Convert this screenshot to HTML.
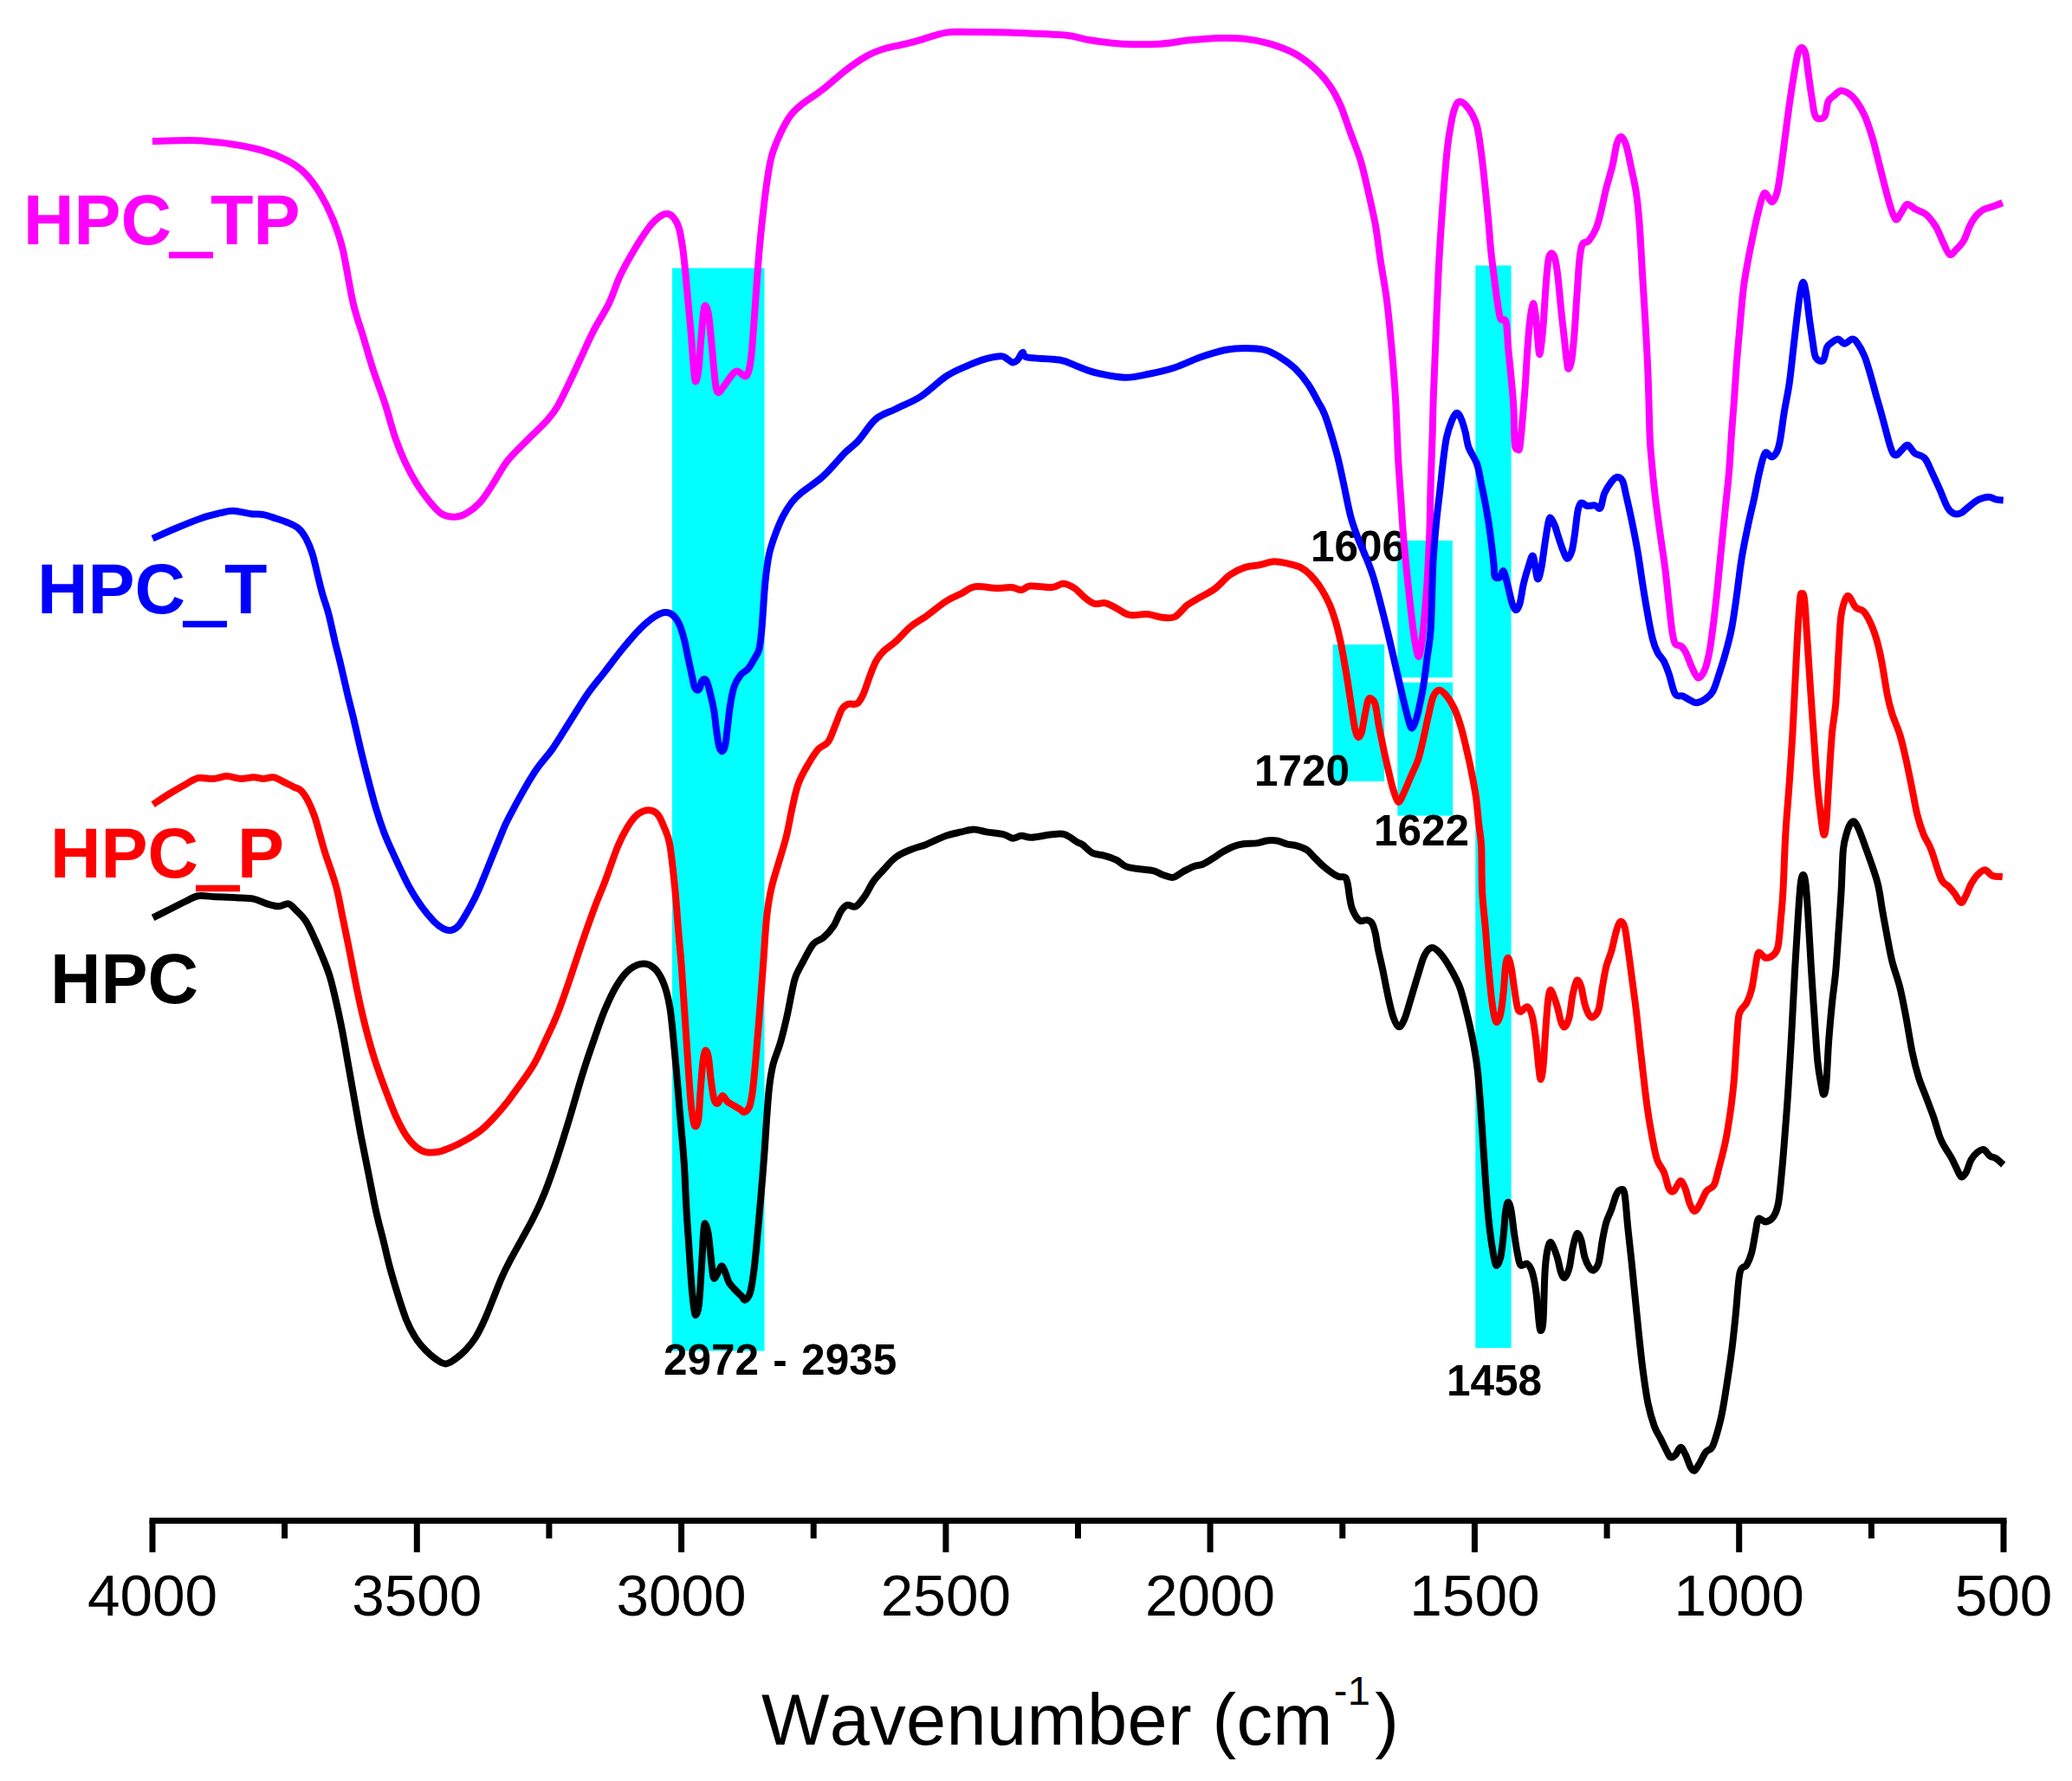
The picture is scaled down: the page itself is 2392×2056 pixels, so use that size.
<!DOCTYPE html>
<html><head><meta charset="utf-8"><title>FTIR spectra</title>
<style>
html,body{margin:0;padding:0;background:#fff;}
svg{display:block}
text{font-family:"Liberation Sans",sans-serif}
.tick{font-size:67.5px;text-anchor:middle;fill:#000}
.lab{font-size:81px;font-weight:bold}
.pk{font-size:49.5px;font-weight:bold;fill:#000}
.c{fill:none;stroke-width:8;stroke-linejoin:round;stroke-linecap:butt}
</style></head><body>
<svg width="2392" height="2056" viewBox="0 0 2392 2056">
<rect width="2392" height="2056" fill="#fff"/>

<rect x="776" y="309.5" width="106.5" height="1250.0" fill="#00ffff"/>
<rect x="1703.3" y="306.5" width="41.3" height="1249.5" fill="#00ffff"/>
<rect x="1613.3" y="624" width="63.5" height="158.2" fill="#00ffff"/>
<rect x="1613.3" y="787.8" width="63.9" height="153.8" fill="#00ffff"/>
<rect x="1538.8" y="744.1" width="59.4" height="157.9" fill="#00ffff"/>
<text class="pk" x="1513" y="647.7">1606</text>
<text class="pk" x="1448" y="907">1720</text>
<text class="pk" x="1586" y="976.4">1622</text>
<text class="pk" x="766" y="1587" style="word-spacing:2.5px">2972 - 2935</text>
<text class="pk" x="1670" y="1611.4">1458</text>
<path class="c" stroke="#ff00ff" d="M175.9 163.0 C184.5 162.9 212.1 161.6 227.4 162.2 C242.8 162.8 255.4 164.6 268.0 166.5 C280.6 168.4 292.1 170.6 302.7 173.7 C313.3 176.8 323.5 181.0 331.7 185.3 C339.9 189.7 345.6 193.5 351.9 199.8 C358.2 206.1 364.0 214.3 369.3 223.0 C374.6 231.7 379.5 241.3 383.8 251.9 C388.1 262.5 391.4 270.3 395.4 286.7 C399.4 303.1 403.7 333.0 407.7 350.0 C411.7 367.0 415.4 375.7 419.3 388.6 C423.2 401.5 426.7 414.3 430.9 427.2 C435.1 440.1 440.2 452.9 444.4 465.8 C448.6 478.7 452.1 493.1 456.0 504.4 C459.9 515.7 463.4 524.4 467.6 533.4 C471.8 542.4 476.3 550.8 481.1 558.5 C485.9 566.2 491.7 573.9 496.5 579.7 C501.3 585.5 505.2 590.4 510.0 593.2 C514.8 596.0 520.7 596.9 525.5 596.7 C530.3 596.6 534.2 595.1 539.0 592.3 C543.8 589.5 549.6 585.0 554.4 579.7 C559.2 574.4 563.2 567.8 568.0 560.4 C572.8 553.0 579.2 541.4 583.4 535.3 C587.6 529.2 588.3 528.9 593.1 523.7 C597.9 518.6 606.0 510.8 612.4 504.4 C618.8 498.0 626.6 490.9 631.7 485.1 C636.8 479.3 639.0 476.8 643.2 469.7 C647.4 462.6 652.3 452.0 656.8 442.7 C661.3 433.4 665.5 424.0 670.3 413.7 C675.1 403.4 680.2 391.5 685.7 380.9 C691.2 370.3 698.1 360.4 703.1 350.0 C708.1 339.6 710.8 329.1 715.8 318.5 C720.8 307.9 727.4 296.3 733.2 286.7 C739.0 277.1 745.8 266.8 750.6 260.6 C755.4 254.4 758.8 251.9 762.2 249.6 C765.6 247.3 768.1 246.3 770.8 246.7 C773.4 247.1 775.9 249.1 778.1 251.9 C780.3 254.7 782.2 257.7 783.9 263.5 C785.6 269.3 787.0 278.5 788.2 286.7 C789.4 294.9 790.1 303.0 791.1 312.7 C792.1 322.4 792.9 333.0 794.0 344.6 C795.1 356.2 796.4 369.6 797.5 382.2 C798.6 394.8 799.5 410.2 800.4 419.9 C801.3 429.6 801.7 438.8 802.7 440.2 C803.7 441.6 805.1 436.3 806.2 428.6 C807.3 420.9 808.1 404.9 809.1 393.8 C810.1 382.7 811.1 368.9 812.0 362.0 C812.9 355.1 813.3 352.7 814.3 352.7 C815.3 352.7 816.7 356.1 817.8 362.0 C818.9 367.9 819.7 378.4 820.7 388.0 C821.7 397.6 822.7 410.2 823.6 419.9 C824.5 429.5 825.5 440.3 826.4 445.9 C827.3 451.4 827.9 452.9 829.3 453.2 C830.7 453.4 831.8 451.0 834.6 447.4 C837.4 443.8 843.2 434.6 846.1 431.5 C849.0 428.4 849.5 428.1 851.9 428.6 C854.3 429.1 858.4 434.9 860.6 434.4 C862.8 433.9 863.8 430.5 865.0 425.7 C866.2 420.9 866.7 418.4 867.9 405.4 C869.1 392.4 870.8 366.8 872.2 347.5 C873.6 328.2 875.0 306.5 876.5 289.6 C878.0 272.7 879.4 259.1 880.9 246.1 C882.4 233.1 883.5 222.5 885.2 211.4 C886.9 200.3 888.3 189.2 891.0 179.5 C893.7 169.8 897.6 161.2 901.2 153.5 C904.8 145.8 908.9 138.5 912.7 133.2 C916.6 127.9 918.0 126.7 924.3 121.6 C930.6 116.5 941.7 109.5 950.4 102.8 C959.1 96.0 968.2 87.4 976.4 81.1 C984.6 74.8 992.4 69.3 999.6 65.2 C1006.9 61.1 1011.2 59.2 1019.9 56.5 C1028.6 53.8 1039.6 52.4 1051.7 49.2 C1063.8 46.1 1080.7 39.6 1092.3 37.6 C1103.9 35.6 1109.1 37.1 1121.2 37.1 C1133.3 37.1 1146.7 37.0 1164.7 37.6 C1182.7 38.2 1213.5 39.0 1229.0 40.5 C1244.5 42.0 1246.8 44.6 1257.9 46.3 C1269.0 48.0 1282.1 50.0 1295.6 50.7 C1309.1 51.4 1326.0 51.4 1339.0 50.7 C1352.0 50.0 1362.1 47.4 1373.7 46.3 C1385.3 45.2 1397.9 44.2 1408.5 44.0 C1419.1 43.8 1427.8 43.8 1437.5 44.9 C1447.2 46.0 1456.8 47.8 1466.4 50.7 C1476.1 53.6 1486.7 57.5 1495.4 62.3 C1504.1 67.1 1511.8 73.3 1518.5 79.6 C1525.2 85.9 1531.1 92.9 1535.9 99.9 C1540.7 106.9 1543.6 112.7 1547.5 121.6 C1551.4 130.5 1555.2 142.9 1559.1 153.5 C1563.0 164.1 1567.3 174.2 1570.7 185.3 C1574.1 196.4 1576.4 207.5 1579.3 220.1 C1582.2 232.7 1585.6 247.1 1588.0 260.6 C1590.4 274.1 1591.6 286.7 1593.8 301.2 C1596.0 315.7 1598.9 330.1 1601.1 347.5 C1603.3 364.9 1605.2 386.1 1606.9 405.4 C1608.6 424.7 1610.0 442.7 1611.2 463.3 C1612.4 483.9 1613.1 510.8 1614.1 529.0 C1615.1 547.2 1616.0 557.9 1617.0 572.4 C1618.0 586.9 1618.7 600.8 1619.9 615.8 C1621.1 630.8 1622.8 647.7 1624.2 662.2 C1625.7 676.7 1627.1 690.2 1628.6 702.7 C1630.0 715.2 1631.5 728.3 1632.9 737.5 C1634.4 746.7 1636.1 755.8 1637.3 757.7 C1638.5 759.6 1639.2 754.3 1640.2 749.0 C1641.2 743.7 1641.9 738.4 1643.1 725.9 C1644.3 713.4 1646.2 692.1 1647.4 673.7 C1648.6 655.4 1649.6 635.1 1650.3 615.8 C1651.0 596.5 1651.1 577.2 1651.7 557.9 C1652.3 538.6 1653.2 515.9 1653.7 500.1 C1654.2 484.3 1654.1 479.1 1654.6 463.3 C1655.1 447.5 1655.9 429.5 1656.9 405.4 C1657.9 381.3 1659.1 345.1 1660.4 318.5 C1661.7 291.9 1663.1 270.2 1664.8 246.1 C1666.5 222.0 1668.7 192.0 1670.6 173.7 C1672.5 155.4 1674.7 144.8 1676.4 136.1 C1678.1 127.4 1679.3 124.7 1680.7 121.6 C1682.1 118.5 1683.1 117.3 1685.0 117.3 C1686.9 117.3 1689.9 119.2 1692.3 121.6 C1694.7 124.0 1697.3 127.7 1699.5 131.8 C1701.7 135.9 1703.6 139.2 1705.3 146.2 C1707.0 153.2 1708.2 162.8 1709.7 173.7 C1711.2 184.6 1712.6 197.9 1714.0 211.4 C1715.4 224.9 1717.1 241.8 1718.3 254.8 C1719.5 267.8 1720.1 279.0 1721.2 289.6 C1722.3 300.2 1723.5 308.9 1724.7 318.5 C1725.9 328.1 1727.2 339.3 1728.5 347.5 C1729.8 355.7 1730.5 363.7 1732.2 367.8 C1733.9 371.9 1737.0 365.8 1738.6 372.1 C1740.1 378.4 1740.5 395.0 1741.5 405.4 C1742.5 415.8 1743.4 423.8 1744.4 434.4 C1745.4 445.0 1746.6 456.2 1747.3 469.1 C1748.0 482.0 1747.9 503.3 1748.7 511.6 C1749.5 519.9 1751.1 518.8 1752.2 518.8 C1753.3 518.8 1753.8 522.8 1755.1 511.6 C1756.4 500.4 1758.9 469.4 1760.3 451.7 C1761.7 434.0 1762.2 418.9 1763.2 405.4 C1764.2 391.9 1765.0 379.9 1766.1 370.7 C1767.2 361.5 1768.8 351.4 1769.9 350.4 C1771.0 349.4 1771.8 357.2 1772.8 364.9 C1773.8 372.6 1774.9 389.5 1775.7 396.7 C1776.5 403.9 1776.7 411.7 1777.7 408.3 C1778.7 404.9 1780.4 388.9 1781.5 376.4 C1782.6 363.8 1783.4 345.5 1784.4 333.0 C1785.4 320.5 1786.2 307.9 1787.3 301.2 C1788.3 294.4 1789.4 293.0 1790.7 292.5 C1792.0 292.0 1793.8 294.0 1795.1 298.3 C1796.4 302.6 1797.2 308.9 1798.4 318.5 C1799.6 328.1 1800.8 344.1 1802.1 356.2 C1803.3 368.3 1804.8 380.8 1805.9 390.9 C1807.0 401.0 1808.0 411.2 1808.8 417.0 C1809.6 422.8 1809.8 426.2 1810.8 425.7 C1811.8 425.2 1813.5 420.9 1814.6 414.1 C1815.7 407.3 1816.5 397.2 1817.5 385.1 C1818.5 373.0 1819.4 355.7 1820.4 341.7 C1821.4 327.7 1822.2 311.1 1823.3 301.2 C1824.3 291.3 1824.9 286.2 1826.7 282.3 C1828.5 278.4 1831.3 281.1 1834.0 278.0 C1836.7 274.9 1840.3 269.3 1842.7 263.5 C1845.1 257.7 1846.6 250.9 1848.5 243.2 C1850.4 235.5 1852.1 225.9 1854.3 217.2 C1856.5 208.5 1859.4 199.8 1861.5 191.1 C1863.6 182.4 1865.0 170.6 1866.7 165.1 C1868.4 159.6 1869.8 157.3 1871.6 157.8 C1873.4 158.3 1875.5 162.0 1877.4 168.0 C1879.3 174.0 1881.3 184.8 1883.2 194.0 C1885.1 203.2 1887.4 211.9 1889.0 223.0 C1890.6 234.1 1891.6 244.7 1892.8 260.6 C1894.0 276.5 1895.0 299.2 1896.2 318.5 C1897.4 337.8 1898.6 357.1 1899.7 376.4 C1900.8 395.7 1901.8 413.8 1902.6 434.4 C1903.4 455.0 1903.9 484.3 1904.5 500.1 C1905.1 515.9 1905.4 517.0 1906.4 529.0 C1907.4 541.0 1909.0 557.9 1910.7 572.4 C1912.4 586.9 1914.6 601.8 1916.5 615.8 C1918.4 629.8 1920.6 642.9 1922.3 656.4 C1924.0 669.9 1925.3 684.8 1926.7 696.9 C1928.1 709.0 1929.2 721.1 1930.4 728.8 C1931.6 736.5 1932.1 740.3 1933.9 743.2 C1935.7 746.1 1938.9 744.2 1941.1 746.1 C1943.3 748.0 1945.0 750.9 1946.9 754.8 C1948.8 758.7 1950.5 764.7 1952.7 769.3 C1954.9 773.9 1957.6 781.3 1960.0 782.3 C1962.4 783.3 1965.0 779.7 1967.2 775.1 C1969.4 770.5 1971.3 763.0 1973.0 754.8 C1974.7 746.6 1975.8 737.0 1977.3 725.9 C1978.8 714.8 1980.2 701.7 1981.7 688.2 C1983.2 674.7 1984.3 661.7 1986.0 644.8 C1987.7 627.9 1990.1 603.8 1991.8 586.9 C1993.5 570.0 1995.0 557.9 1996.2 543.4 C1997.4 528.9 1998.0 513.5 1999.0 500.1 C2000.0 486.8 2000.9 476.7 2001.9 463.3 C2002.9 449.9 2003.7 434.4 2004.8 419.9 C2005.9 405.4 2007.3 390.9 2008.6 376.4 C2009.9 361.9 2011.2 345.5 2012.7 333.0 C2014.2 320.5 2016.1 311.3 2017.9 301.2 C2019.7 291.1 2021.8 281.4 2023.7 272.2 C2025.6 263.0 2027.3 254.3 2029.5 246.1 C2031.7 237.9 2034.0 225.2 2036.7 223.0 C2039.4 220.8 2043.0 233.1 2045.4 233.1 C2047.8 233.1 2049.6 228.1 2051.2 223.0 C2052.8 217.9 2053.4 212.3 2054.9 202.7 C2056.4 193.0 2058.1 178.6 2059.9 165.1 C2061.7 151.6 2063.7 135.1 2065.6 121.6 C2067.5 108.1 2069.7 94.1 2071.4 84.0 C2073.1 73.9 2074.4 65.6 2075.8 60.8 C2077.2 56.0 2078.7 54.8 2080.1 55.0 C2081.5 55.2 2083.2 57.0 2084.5 62.3 C2085.8 67.6 2086.7 78.5 2087.9 86.9 C2089.1 95.3 2090.3 104.9 2091.7 112.9 C2093.1 120.9 2093.7 131.1 2096.1 134.7 C2098.5 138.3 2103.8 137.6 2106.2 134.7 C2108.6 131.8 2108.6 121.4 2110.5 117.3 C2112.4 113.2 2115.4 112.1 2117.8 110.0 C2120.2 107.9 2122.3 105.2 2125.0 104.8 C2127.7 104.4 2130.8 105.9 2133.7 107.7 C2136.6 109.5 2139.3 111.5 2142.4 115.8 C2145.5 120.0 2149.4 126.2 2152.5 133.2 C2155.6 140.2 2158.5 149.1 2161.2 157.8 C2163.8 166.5 2166.0 175.9 2168.4 185.3 C2170.8 194.7 2173.3 205.1 2175.7 214.3 C2178.1 223.5 2180.7 233.8 2182.9 240.3 C2185.1 246.8 2186.8 252.4 2188.7 253.4 C2190.6 254.4 2192.3 249.0 2194.5 246.1 C2196.7 243.2 2198.8 236.7 2201.7 236.0 C2204.6 235.3 2208.3 239.9 2211.9 241.8 C2215.5 243.7 2219.6 244.2 2223.5 247.6 C2227.4 251.0 2231.7 256.6 2235.1 262.1 C2238.5 267.7 2241.0 275.6 2243.7 280.9 C2246.3 286.2 2248.6 292.7 2251.0 293.9 C2253.4 295.1 2255.5 290.8 2258.2 288.1 C2260.8 285.5 2264.2 282.6 2266.9 278.0 C2269.6 273.4 2271.7 265.4 2274.1 260.6 C2276.5 255.8 2278.7 252.1 2281.4 249.0 C2284.1 245.9 2286.7 243.6 2290.1 241.8 C2293.5 240.0 2298.1 239.3 2301.7 238.0 C2305.3 236.7 2310.1 234.7 2311.8 234.0"/>
<path class="c" stroke="#0000ff" d="M176.1 621.6 C180.5 619.7 193.4 613.9 202.7 610.0 C212.0 606.1 223.0 601.5 231.7 598.5 C240.4 595.5 248.5 593.6 254.8 592.1 C261.1 590.6 263.5 589.6 269.3 589.8 C275.1 590.0 283.8 592.5 289.6 593.2 C295.4 593.9 299.3 593.2 304.1 594.1 C308.9 595.0 313.7 596.9 318.5 598.5 C323.3 600.1 328.6 601.8 333.0 603.7 C337.4 605.6 341.2 607.0 344.6 610.0 C348.0 613.0 350.7 616.8 353.3 621.6 C355.9 626.4 358.3 632.2 360.5 639.0 C362.7 645.8 364.4 654.5 366.3 662.2 C368.2 669.9 369.9 677.6 372.1 685.3 C374.3 693.0 376.9 699.3 379.3 708.5 C381.7 717.7 384.2 730.2 386.6 740.3 C389.0 750.4 391.4 759.1 393.8 769.3 C396.2 779.4 398.7 791.1 401.1 801.2 C403.5 811.3 405.7 819.0 408.3 830.1 C410.9 841.2 414.1 855.7 417.0 867.8 C419.9 879.9 422.8 891.4 425.7 902.5 C428.6 913.6 431.5 924.8 434.4 934.4 C437.3 944.0 440.2 952.7 443.1 960.4 C446.0 968.1 446.9 970.2 451.7 980.7 C456.5 991.2 466.2 1012.3 472.0 1023.2 C477.8 1034.1 481.7 1039.5 486.5 1046.3 C491.3 1053.0 496.7 1059.3 501.0 1063.7 C505.3 1068.1 509.1 1070.7 512.5 1072.4 C515.9 1074.1 518.3 1074.5 521.2 1073.8 C524.1 1073.1 526.5 1072.2 529.9 1068.1 C533.3 1064.0 537.6 1056.2 541.5 1049.2 C545.4 1042.2 547.3 1039.4 553.1 1026.1 C558.9 1012.7 570.5 982.9 576.3 969.1 C582.1 955.3 580.9 956.1 587.8 943.1 C594.6 930.1 609.1 903.9 617.4 890.9 C625.7 877.9 630.9 874.5 637.6 864.9 C644.4 855.2 651.1 843.6 657.9 833.0 C664.7 822.4 671.4 810.9 678.2 801.2 C685.0 791.6 691.8 783.8 698.5 775.1 C705.2 766.4 712.0 757.2 718.7 749.0 C725.5 740.8 732.7 732.2 739.0 725.9 C745.3 719.6 751.6 714.5 756.4 711.4 C761.2 708.2 764.6 707.2 768.0 707.0 C771.4 706.8 774.0 707.7 776.6 709.9 C779.2 712.1 781.7 715.5 783.9 720.1 C786.1 724.7 788.0 731.2 789.7 737.5 C791.4 743.8 792.5 751.0 794.0 757.7 C795.5 764.5 797.0 772.0 798.4 778.0 C799.8 784.0 800.7 790.9 802.1 793.9 C803.5 796.9 805.5 797.3 807.0 795.9 C808.5 794.5 809.3 786.8 810.8 785.2 C812.2 783.6 814.2 783.4 815.7 786.1 C817.2 788.8 818.7 795.3 820.1 801.2 C821.5 807.1 823.2 814.2 824.4 821.4 C825.6 828.6 826.3 837.8 827.3 844.6 C828.3 851.4 829.1 858.2 830.2 862.0 C831.3 865.8 832.8 867.7 834.0 867.2 C835.2 866.7 836.5 864.3 837.5 859.1 C838.5 853.9 839.3 843.6 840.3 835.9 C841.2 828.2 842.0 819.9 843.2 812.7 C844.4 805.5 845.7 798.0 847.6 792.5 C849.5 787.0 852.1 782.8 854.8 779.4 C857.4 776.0 860.8 775.3 863.5 772.2 C866.2 769.1 868.6 764.5 870.8 760.6 C873.0 756.7 875.1 754.8 876.5 749.0 C877.9 743.2 878.6 734.6 879.4 725.9 C880.2 717.2 880.8 706.5 881.5 696.9 C882.2 687.2 882.7 677.6 883.8 668.0 C884.9 658.4 886.2 647.7 888.1 639.0 C890.0 630.3 892.7 623.0 895.4 615.8 C898.1 608.6 901.0 601.6 904.1 595.6 C907.2 589.6 910.8 584.0 914.2 579.6 C917.6 575.2 918.8 574.1 924.3 569.5 C929.8 564.9 941.2 557.4 947.5 552.1 C953.8 546.8 957.2 542.7 962.0 537.6 C966.8 532.5 971.6 526.5 976.4 521.7 C981.2 516.9 985.1 515.0 990.9 508.7 C996.7 502.3 1004.0 489.7 1011.2 483.6 C1018.5 477.5 1025.7 476.4 1034.4 472.0 C1043.1 467.6 1053.7 463.8 1063.3 457.5 C1072.9 451.2 1083.6 440.2 1092.3 434.4 C1101.0 428.6 1107.7 426.2 1115.4 422.8 C1123.1 419.4 1131.8 416.0 1138.6 414.1 C1145.4 412.2 1151.9 411.1 1156.0 411.2 C1160.1 411.3 1161.0 413.5 1163.2 414.7 C1165.4 415.9 1167.1 418.3 1169.0 418.4 C1170.9 418.5 1172.9 417.4 1174.8 415.5 C1176.7 413.6 1178.7 407.4 1180.6 406.9 C1182.5 406.4 1179.3 411.2 1186.4 412.6 C1193.5 414.0 1213.7 413.8 1223.2 415.5 C1232.7 417.2 1236.7 420.4 1243.4 422.8 C1250.2 425.2 1254.5 427.8 1263.7 430.0 C1272.9 432.2 1287.9 435.6 1298.5 435.8 C1309.1 436.1 1317.8 433.4 1327.4 431.5 C1337.1 429.6 1346.8 427.3 1356.4 424.2 C1366.1 421.1 1375.7 416.0 1385.3 412.6 C1394.9 409.2 1405.6 405.8 1414.3 404.0 C1423.0 402.2 1429.8 401.9 1437.5 401.9 C1445.2 401.9 1453.8 402.2 1460.6 404.0 C1467.3 405.8 1472.2 409.0 1478.0 412.6 C1483.8 416.2 1490.1 420.6 1495.4 425.7 C1500.7 430.8 1505.5 436.8 1509.8 443.1 C1514.1 449.4 1518.0 457.0 1521.4 463.3 C1524.8 469.6 1526.5 470.7 1530.1 480.7 C1533.7 490.7 1539.7 510.8 1543.1 523.2 C1546.5 535.6 1547.7 542.9 1550.4 555.0 C1553.1 567.1 1556.2 584.5 1559.1 595.6 C1562.0 606.7 1564.9 613.9 1567.8 621.6 C1570.7 629.3 1573.5 634.6 1576.4 641.9 C1579.3 649.1 1582.2 655.9 1585.1 665.1 C1588.0 674.3 1590.9 685.8 1593.8 696.9 C1596.7 708.0 1599.6 719.6 1602.5 731.7 C1605.4 743.8 1608.3 756.8 1611.2 769.3 C1614.1 781.8 1617.5 796.8 1619.9 806.9 C1622.3 817.0 1624.2 824.5 1625.7 830.1 C1627.2 835.7 1628.0 839.3 1629.2 840.3 C1630.4 841.3 1631.6 839.0 1632.9 835.9 C1634.2 832.8 1635.6 828.6 1637.3 821.4 C1639.0 814.2 1641.4 802.6 1643.1 792.5 C1644.8 782.4 1646.0 771.7 1647.4 760.6 C1648.8 749.5 1650.5 744.3 1651.7 725.9 C1652.9 707.5 1653.3 670.4 1654.4 650.0 C1655.5 629.6 1656.8 617.2 1658.1 603.4 C1659.4 589.6 1660.8 579.7 1662.2 567.2 C1663.6 554.7 1665.2 539.1 1666.5 528.6 C1667.8 518.1 1668.5 511.6 1670.1 504.4 C1671.7 497.1 1674.3 489.7 1676.2 485.1 C1678.1 480.5 1679.9 476.9 1681.7 476.7 C1683.5 476.5 1685.3 480.1 1687.0 483.9 C1688.7 487.7 1690.4 494.2 1691.8 499.6 C1693.2 505.0 1693.3 510.5 1695.5 516.5 C1697.7 522.5 1702.7 529.0 1705.1 535.8 C1707.5 542.6 1708.3 549.9 1709.9 557.5 C1711.5 565.1 1713.2 572.9 1714.8 581.7 C1716.4 590.6 1718.0 599.2 1719.6 610.6 C1721.2 622.0 1723.4 640.9 1724.4 650.0 C1725.4 659.1 1724.4 662.4 1725.6 665.1 C1726.8 667.9 1729.7 667.5 1731.4 666.5 C1733.1 665.5 1734.2 658.1 1735.7 659.3 C1737.2 660.5 1738.4 667.4 1740.1 673.7 C1741.8 680.0 1744.1 691.8 1745.8 696.9 C1747.5 702.0 1748.8 704.2 1750.2 704.2 C1751.7 704.2 1753.0 702.0 1754.5 696.9 C1756.0 691.8 1757.2 680.9 1758.9 673.7 C1760.6 666.5 1762.9 658.8 1764.7 653.5 C1766.5 648.2 1768.2 639.5 1769.9 641.9 C1771.6 644.3 1773.2 665.6 1774.8 668.0 C1776.3 670.4 1777.8 663.2 1779.2 656.4 C1780.7 649.6 1782.1 636.6 1783.5 627.4 C1784.9 618.2 1786.6 606.2 1787.8 601.4 C1789.0 596.6 1789.5 597.5 1790.7 598.5 C1791.9 599.5 1793.9 604.2 1795.1 607.1 C1796.3 610.0 1796.4 611.4 1797.8 615.8 C1799.2 620.1 1801.7 628.4 1803.6 633.2 C1805.5 638.0 1807.6 644.3 1809.4 644.8 C1811.2 645.3 1813.1 640.9 1814.6 636.1 C1816.0 631.3 1816.9 623.5 1818.1 615.8 C1819.2 608.1 1820.3 595.7 1821.5 589.8 C1822.7 583.9 1823.5 581.5 1825.3 580.5 C1827.1 579.5 1829.8 583.5 1832.5 584.0 C1835.2 584.5 1838.7 583.0 1841.2 583.4 C1843.7 583.8 1845.8 588.6 1847.6 586.3 C1849.4 584.0 1850.1 574.5 1852.2 569.5 C1854.3 564.5 1857.7 559.6 1860.1 556.5 C1862.5 553.4 1864.5 551.0 1866.7 550.7 C1868.9 550.5 1871.3 551.4 1873.1 555.0 C1874.9 558.6 1875.7 565.1 1877.4 572.4 C1879.1 579.6 1881.0 587.9 1883.2 598.5 C1885.4 609.1 1888.3 623.6 1890.5 636.1 C1892.7 648.6 1894.3 661.6 1896.2 673.7 C1898.1 685.8 1900.1 697.9 1902.0 708.5 C1903.9 719.1 1905.9 730.0 1907.8 737.5 C1909.7 745.0 1911.4 749.1 1913.6 753.4 C1915.8 757.7 1918.7 759.4 1920.9 763.5 C1923.1 767.6 1924.5 771.7 1926.7 778.0 C1928.9 784.3 1931.2 797.0 1933.9 801.2 C1936.6 805.5 1939.7 802.3 1942.6 803.5 C1945.5 804.7 1948.6 807.1 1951.3 808.4 C1954.0 809.7 1955.6 811.5 1958.5 811.3 C1961.4 811.0 1965.5 809.1 1968.6 806.9 C1971.7 804.7 1974.6 803.1 1977.3 798.3 C1980.0 793.5 1982.2 785.2 1984.6 778.0 C1987.0 770.8 1989.4 763.5 1991.8 754.8 C1994.2 746.1 1996.8 737.0 1999.0 725.9 C2001.2 714.8 2002.9 701.7 2004.8 688.2 C2006.7 674.7 2008.4 658.3 2010.6 644.8 C2012.8 631.3 2015.5 618.7 2017.9 607.1 C2020.3 595.5 2022.9 585.4 2025.1 575.3 C2027.3 565.2 2028.8 555.0 2030.9 546.3 C2033.0 537.6 2035.2 526.3 2037.6 523.2 C2040.0 520.1 2043.1 527.8 2045.4 527.5 C2047.7 527.2 2049.6 524.8 2051.2 521.7 C2052.8 518.6 2053.4 516.5 2054.9 508.7 C2056.4 500.9 2058.1 485.8 2059.9 474.9 C2061.7 464.0 2063.9 454.7 2065.6 443.1 C2067.3 431.5 2068.6 417.9 2070.0 405.4 C2071.4 392.8 2073.0 378.9 2074.3 367.8 C2075.7 356.7 2076.9 345.8 2078.1 338.8 C2079.3 331.8 2080.4 325.8 2081.6 325.8 C2082.8 325.8 2083.9 331.8 2085.1 338.8 C2086.3 345.8 2087.6 358.6 2088.8 367.8 C2090.1 377.0 2091.4 386.3 2092.6 393.8 C2093.8 401.3 2094.1 408.9 2096.1 412.6 C2098.1 416.3 2102.5 418.0 2104.7 416.1 C2106.9 414.2 2107.4 404.6 2109.1 401.1 C2110.8 397.6 2112.7 396.9 2114.9 395.3 C2117.1 393.7 2119.7 391.3 2122.1 391.5 C2124.5 391.7 2126.8 396.7 2129.4 396.7 C2132.1 396.7 2135.6 391.7 2138.0 391.5 C2140.4 391.3 2141.4 392.0 2143.8 395.3 C2146.2 398.6 2149.8 404.7 2152.5 411.2 C2155.2 417.7 2157.4 426.2 2159.8 434.4 C2162.2 442.6 2164.8 452.7 2167.0 460.4 C2169.2 468.1 2170.2 471.2 2172.8 480.7 C2175.5 490.2 2180.2 509.9 2182.9 517.4 C2185.6 524.9 2186.5 525.3 2188.7 525.5 C2190.9 525.7 2193.7 520.7 2196.0 518.8 C2198.3 516.9 2200.2 513.2 2202.6 513.9 C2205.0 514.6 2207.2 520.7 2210.4 523.2 C2213.6 525.7 2218.6 525.1 2222.0 529.0 C2225.4 532.9 2227.8 540.3 2230.7 546.3 C2233.6 552.3 2236.5 558.7 2239.4 565.2 C2242.3 571.7 2245.4 580.8 2248.1 585.4 C2250.8 590.0 2252.7 591.6 2255.3 592.7 C2258.0 593.8 2260.9 593.6 2264.0 592.1 C2267.1 590.6 2270.7 586.6 2274.1 584.0 C2277.5 581.4 2280.7 578.4 2284.3 576.7 C2287.9 575.0 2292.5 573.8 2295.9 573.8 C2299.3 573.8 2301.7 576.1 2304.5 576.7 C2307.3 577.3 2311.3 577.5 2312.7 577.6"/>
<path class="c" stroke="#ff0000" d="M176.6 928.6 C180.0 926.4 190.6 919.4 196.9 915.5 C203.2 911.6 209.0 908.3 214.3 905.4 C219.6 902.5 223.5 899.3 228.8 898.2 C234.1 897.1 240.5 899.4 246.1 899.0 C251.7 898.6 256.8 896.1 262.1 896.1 C267.4 896.1 272.9 898.8 278.0 899.0 C283.1 899.2 288.1 897.3 292.5 897.3 C296.9 897.3 300.2 899.0 304.1 899.0 C308.0 899.0 311.8 896.7 315.6 897.3 C319.5 897.9 323.3 900.7 327.2 902.5 C331.1 904.3 335.4 906.6 338.8 908.3 C342.2 910.0 344.6 909.7 347.5 912.6 C350.4 915.5 353.6 920.6 356.2 925.7 C358.8 930.8 361.2 936.8 363.4 943.1 C365.6 949.4 367.3 956.5 369.2 963.3 C371.1 970.0 371.9 973.6 375.0 983.6 C378.1 993.6 384.6 1010.8 388.0 1023.2 C391.4 1035.6 392.9 1046.3 395.3 1057.9 C397.7 1069.5 400.1 1080.6 402.5 1092.7 C404.9 1104.8 407.3 1118.2 409.7 1130.3 C412.1 1142.4 414.3 1153.5 417.0 1165.1 C419.7 1176.7 422.8 1189.2 425.7 1199.8 C428.6 1210.4 431.0 1218.7 434.4 1228.8 C437.8 1238.9 442.0 1250.5 445.9 1260.6 C449.8 1270.7 453.6 1281.1 457.5 1289.6 C461.4 1298.0 465.2 1305.5 469.1 1311.3 C473.0 1317.1 476.8 1321.2 480.7 1324.3 C484.6 1327.4 487.9 1329.2 492.3 1330.1 C496.7 1331.0 502.0 1330.5 506.8 1329.5 C511.6 1328.5 515.9 1326.6 521.2 1324.3 C526.5 1322.0 532.8 1319.0 538.6 1315.6 C544.4 1312.2 550.2 1308.9 556.0 1304.1 C561.8 1299.3 568.1 1292.5 573.4 1286.7 C578.7 1280.9 580.9 1278.5 587.8 1269.3 C594.6 1260.1 607.6 1242.8 614.5 1231.7 C621.4 1220.6 624.2 1212.9 629.0 1202.7 C633.8 1192.5 638.6 1182.9 643.4 1170.8 C648.2 1158.7 653.1 1144.3 657.9 1130.3 C662.7 1116.3 667.6 1100.9 672.4 1086.9 C677.2 1072.9 682.5 1057.9 686.9 1046.3 C691.2 1034.7 694.2 1028.8 698.5 1017.4 C702.8 1006.0 708.6 988.3 712.9 977.8 C717.2 967.3 720.6 960.9 724.5 954.6 C728.4 948.3 732.0 943.4 736.1 940.2 C740.2 937.0 745.2 935.2 749.1 935.2 C753.0 935.2 756.4 937.0 759.3 940.2 C762.2 943.4 764.2 948.8 766.5 954.6 C768.8 960.4 771.0 962.5 773.2 974.9 C775.4 987.3 777.9 1012.8 779.5 1029.0 C781.1 1045.2 781.8 1057.9 783.0 1072.4 C784.2 1086.9 785.7 1101.3 786.8 1115.8 C787.9 1130.3 788.7 1144.8 789.7 1159.3 C790.7 1173.8 791.6 1188.2 792.6 1202.7 C793.6 1217.2 794.5 1233.1 795.5 1246.1 C796.5 1259.1 797.3 1272.0 798.4 1280.9 C799.5 1289.8 800.8 1297.8 802.1 1299.7 C803.4 1301.6 805.1 1299.0 806.2 1292.5 C807.3 1286.0 807.6 1271.7 808.5 1260.6 C809.4 1249.5 810.4 1233.9 811.4 1225.9 C812.4 1217.9 813.2 1213.8 814.3 1212.8 C815.4 1211.8 816.7 1214.5 817.8 1220.1 C818.9 1225.6 819.6 1237.9 820.7 1246.1 C821.8 1254.3 823.0 1264.7 824.4 1269.3 C825.8 1273.9 827.2 1274.3 828.8 1273.6 C830.4 1272.9 832.1 1265.2 834.0 1265.0 C835.9 1264.8 838.0 1270.3 840.3 1272.2 C842.6 1274.1 845.2 1275.0 847.6 1276.5 C850.0 1278.0 852.9 1279.7 854.8 1280.9 C856.7 1282.1 857.5 1284.3 859.2 1283.8 C860.9 1283.3 863.4 1281.9 865.0 1278.0 C866.6 1274.1 867.5 1269.3 868.7 1260.6 C869.9 1251.9 870.9 1240.4 872.2 1225.9 C873.5 1211.4 875.0 1192.1 876.5 1173.7 C878.0 1155.3 879.4 1135.1 880.9 1115.8 C882.4 1096.5 883.5 1073.3 885.2 1057.9 C886.9 1042.5 887.4 1038.0 891.0 1023.2 C894.6 1008.4 903.0 983.9 906.9 969.1 C910.8 954.3 911.8 945.0 914.2 934.4 C916.6 923.8 918.3 914.1 921.4 905.4 C924.5 896.7 929.1 889.0 933.0 882.2 C936.9 875.5 940.7 869.2 944.6 864.9 C948.5 860.6 952.8 861.0 956.2 856.2 C959.6 851.4 962.2 842.2 964.9 835.9 C967.5 829.6 969.7 822.4 972.1 818.5 C974.5 814.6 976.4 813.8 979.3 812.7 C982.2 811.7 986.6 814.1 989.5 812.2 C992.4 810.3 994.3 806.4 996.7 801.2 C999.1 796.0 1001.6 787.2 1004.0 780.9 C1006.4 774.6 1008.6 768.3 1011.2 763.5 C1013.9 758.7 1016.0 755.8 1019.9 751.9 C1023.8 748.0 1029.1 745.1 1034.4 740.3 C1039.7 735.5 1045.9 727.8 1051.7 723.0 C1057.5 718.2 1062.3 716.2 1069.1 711.4 C1075.9 706.6 1085.5 698.4 1092.3 694.0 C1099.1 689.6 1104.2 688.1 1109.7 685.3 C1115.2 682.5 1118.8 678.2 1125.6 677.2 C1132.3 676.2 1143.2 678.9 1150.2 679.0 C1157.2 679.1 1162.8 677.8 1167.6 678.1 C1172.4 678.4 1175.6 681.2 1179.2 681.0 C1182.8 680.8 1183.4 677.1 1189.3 676.6 C1195.2 676.1 1208.1 678.6 1214.5 678.1 C1220.9 677.6 1223.2 673.6 1227.5 673.7 C1231.8 673.9 1236.4 676.3 1240.5 679.0 C1244.6 681.7 1248.2 686.7 1252.1 689.7 C1256.0 692.7 1259.6 695.8 1263.7 696.9 C1267.8 698.0 1272.4 695.3 1276.7 696.3 C1281.0 697.3 1285.2 700.4 1289.8 702.7 C1294.4 705.0 1298.4 708.8 1304.2 709.9 C1310.0 711.0 1318.2 708.6 1324.5 709.1 C1330.8 709.6 1336.6 712.3 1341.9 712.8 C1347.2 713.3 1351.6 714.4 1356.4 712.0 C1361.2 709.6 1366.0 702.1 1370.8 698.4 C1375.6 694.7 1380.0 692.9 1385.3 689.7 C1390.6 686.6 1396.9 683.9 1402.7 679.5 C1408.5 675.1 1414.3 667.7 1420.1 663.6 C1425.9 659.5 1431.7 656.8 1437.5 654.9 C1443.3 653.0 1449.2 653.1 1454.8 652.0 C1460.3 650.9 1465.5 648.5 1470.8 648.3 C1476.1 648.1 1481.6 649.5 1486.7 650.6 C1491.8 651.7 1496.9 652.7 1501.2 654.9 C1505.5 657.1 1508.9 659.7 1512.7 663.6 C1516.5 667.5 1520.7 672.6 1524.3 678.1 C1527.9 683.6 1531.6 690.4 1534.5 696.9 C1537.4 703.4 1539.5 710.0 1541.7 717.2 C1543.9 724.4 1545.8 732.6 1547.5 740.3 C1549.2 748.0 1550.3 755.3 1551.8 763.5 C1553.2 771.7 1554.8 780.4 1556.2 789.6 C1557.7 798.8 1559.2 809.8 1560.5 818.5 C1561.8 827.2 1563.1 836.3 1564.3 841.7 C1565.5 847.1 1566.5 850.5 1567.8 851.0 C1569.1 851.5 1570.8 849.1 1572.1 844.6 C1573.4 840.1 1574.7 830.3 1575.9 824.3 C1577.1 818.3 1578.2 811.4 1579.3 808.4 C1580.4 805.4 1581.4 805.7 1582.8 806.4 C1584.2 807.1 1586.0 807.8 1587.5 812.7 C1589.0 817.6 1590.0 827.7 1591.5 835.9 C1593.0 844.1 1594.9 853.3 1596.7 862.0 C1598.5 870.7 1600.6 879.8 1602.5 888.0 C1604.4 896.2 1606.4 904.9 1608.3 911.2 C1610.2 917.5 1612.2 924.7 1614.1 925.7 C1616.0 926.7 1617.5 921.8 1619.9 917.0 C1622.3 912.2 1625.7 903.5 1628.6 896.7 C1631.5 889.9 1634.9 883.6 1637.3 876.4 C1639.7 869.2 1641.2 861.5 1643.1 853.3 C1645.0 845.1 1646.9 835.4 1648.8 827.2 C1650.7 819.0 1652.4 809.2 1654.6 804.1 C1656.8 799.0 1659.2 796.8 1661.9 796.8 C1664.6 796.8 1667.7 800.5 1670.6 804.1 C1673.5 807.7 1676.5 812.7 1679.2 818.5 C1681.9 824.3 1684.3 831.5 1686.5 838.8 C1688.7 846.0 1690.4 853.8 1692.3 862.0 C1694.2 870.2 1696.2 878.4 1698.1 888.0 C1700.0 897.6 1702.4 909.3 1703.9 919.9 C1705.4 930.5 1706.2 942.1 1707.3 951.7 C1708.3 961.4 1709.6 964.9 1710.2 977.8 C1710.8 990.7 1710.3 1013.2 1711.1 1029.0 C1711.9 1044.8 1713.7 1057.9 1714.9 1072.4 C1716.1 1086.9 1717.0 1101.3 1718.3 1115.8 C1719.6 1130.3 1721.2 1148.7 1722.7 1159.3 C1724.2 1169.9 1725.4 1177.6 1727.0 1179.5 C1728.6 1181.4 1730.8 1176.6 1732.2 1170.8 C1733.7 1165.0 1734.7 1154.0 1735.7 1144.8 C1736.7 1135.6 1737.1 1122.3 1738.0 1115.8 C1738.9 1109.3 1739.8 1105.7 1740.9 1105.7 C1742.0 1105.7 1743.2 1110.2 1744.4 1115.8 C1745.6 1121.3 1746.7 1131.3 1747.9 1139.0 C1749.1 1146.7 1750.3 1157.4 1751.6 1162.2 C1752.8 1167.0 1753.5 1168.0 1755.4 1168.0 C1757.3 1168.0 1760.9 1161.2 1763.2 1162.2 C1765.5 1163.2 1767.3 1167.0 1769.0 1173.7 C1770.7 1180.5 1772.2 1193.0 1773.4 1202.7 C1774.6 1212.4 1775.4 1224.5 1776.3 1231.7 C1777.2 1238.9 1777.7 1246.1 1778.6 1246.1 C1779.5 1246.1 1780.5 1241.3 1781.5 1231.7 C1782.5 1222.1 1783.4 1201.2 1784.4 1188.2 C1785.4 1175.2 1786.2 1161.0 1787.3 1153.5 C1788.3 1146.0 1789.0 1141.8 1790.7 1143.3 C1792.5 1144.8 1795.9 1156.2 1797.8 1162.2 C1799.7 1168.2 1800.6 1175.7 1802.1 1179.5 C1803.5 1183.3 1804.9 1186.3 1806.5 1185.3 C1808.1 1184.3 1810.2 1180.0 1811.7 1173.7 C1813.2 1167.4 1814.2 1154.7 1815.7 1147.7 C1817.2 1140.7 1818.8 1133.2 1820.4 1131.8 C1822.0 1130.3 1823.8 1134.4 1825.3 1139.0 C1826.8 1143.6 1828.0 1153.8 1829.6 1159.3 C1831.2 1164.8 1833.2 1169.9 1834.9 1172.3 C1836.6 1174.7 1838.0 1174.9 1839.8 1173.7 C1841.6 1172.5 1843.9 1170.9 1845.6 1165.1 C1847.3 1159.3 1848.5 1147.2 1849.9 1139.0 C1851.4 1130.8 1852.6 1122.5 1854.3 1115.8 C1856.0 1109.0 1858.2 1105.2 1860.1 1098.5 C1862.0 1091.8 1864.1 1081.0 1865.8 1075.3 C1867.5 1069.6 1868.6 1065.3 1870.2 1064.3 C1871.8 1063.3 1873.9 1064.3 1875.4 1069.5 C1877.0 1074.7 1878.0 1085.5 1879.5 1095.6 C1881.0 1105.7 1882.5 1118.2 1884.1 1130.3 C1885.7 1142.4 1887.5 1155.0 1889.0 1168.0 C1890.5 1181.0 1892.0 1195.5 1893.4 1208.5 C1894.9 1221.5 1896.3 1234.0 1897.7 1246.1 C1899.1 1258.2 1900.4 1269.8 1902.0 1280.9 C1903.6 1292.0 1905.5 1303.1 1907.3 1312.7 C1909.1 1322.3 1910.7 1332.0 1913.0 1338.8 C1915.3 1345.6 1918.6 1347.8 1920.9 1353.3 C1923.2 1358.8 1924.8 1368.5 1926.7 1372.1 C1928.6 1375.7 1930.2 1376.5 1932.4 1375.0 C1934.6 1373.5 1937.5 1363.9 1939.7 1363.4 C1941.9 1362.9 1943.7 1367.8 1945.5 1372.1 C1947.3 1376.4 1948.9 1385.2 1950.7 1389.5 C1952.5 1393.8 1954.5 1398.2 1956.5 1398.2 C1958.5 1398.2 1960.5 1393.4 1962.8 1389.5 C1965.1 1385.6 1967.4 1378.6 1970.1 1375.0 C1972.8 1371.4 1976.4 1372.4 1978.8 1367.8 C1981.2 1363.2 1982.4 1355.7 1984.6 1347.5 C1986.8 1339.3 1989.6 1329.1 1991.8 1318.5 C1994.0 1307.9 1995.9 1295.9 1997.6 1283.8 C1999.3 1271.7 2000.7 1259.6 2001.9 1246.1 C2003.1 1232.6 2003.8 1215.2 2004.8 1202.7 C2005.8 1190.2 2005.8 1178.3 2007.7 1170.8 C2009.6 1163.3 2014.0 1162.6 2016.4 1157.8 C2018.8 1153.0 2020.5 1148.9 2022.2 1141.9 C2023.9 1134.9 2025.3 1122.8 2026.6 1115.8 C2027.9 1108.8 2028.1 1101.6 2030.0 1099.9 C2031.9 1098.2 2035.3 1105.2 2038.1 1105.7 C2040.9 1106.2 2044.4 1105.0 2046.8 1102.8 C2049.2 1100.6 2051.0 1100.2 2052.6 1092.7 C2054.2 1085.2 2055.1 1068.5 2056.1 1057.9 C2057.1 1047.3 2057.5 1044.8 2058.4 1029.0 C2059.3 1013.2 2060.1 983.9 2061.3 963.3 C2062.5 942.7 2064.2 924.7 2065.6 905.4 C2066.9 886.1 2068.3 866.8 2069.4 847.5 C2070.5 828.2 2071.3 808.9 2072.3 789.6 C2073.3 770.3 2074.2 748.1 2075.2 731.7 C2076.2 715.3 2077.3 698.8 2078.1 691.1 C2078.9 683.4 2079.3 685.3 2080.1 685.3 C2080.9 685.3 2082.0 683.4 2083.0 691.1 C2084.0 698.8 2084.8 715.3 2085.9 731.7 C2087.0 748.1 2088.4 770.3 2089.7 789.6 C2091.0 808.9 2092.4 829.2 2093.7 847.5 C2095.0 865.8 2096.2 884.1 2097.5 899.6 C2098.8 915.1 2100.5 929.6 2101.8 940.2 C2103.1 950.8 2104.2 961.4 2105.3 963.3 C2106.4 965.2 2107.2 961.4 2108.2 951.7 C2109.2 942.1 2110.0 922.8 2111.1 905.4 C2112.2 888.0 2113.6 863.0 2114.9 847.5 C2116.2 832.0 2118.0 827.2 2119.2 812.7 C2120.4 798.2 2121.1 777.0 2122.1 760.6 C2123.1 744.2 2123.8 725.4 2125.0 714.3 C2126.2 703.2 2127.8 698.4 2129.4 694.0 C2131.0 689.6 2132.1 687.0 2134.3 688.2 C2136.5 689.4 2139.6 698.4 2142.4 701.3 C2145.2 704.2 2148.2 702.5 2151.1 705.6 C2154.0 708.7 2157.2 714.3 2159.8 720.1 C2162.5 725.9 2164.8 732.6 2167.0 740.3 C2169.2 748.0 2170.9 756.2 2172.8 766.4 C2174.7 776.5 2176.7 791.6 2178.6 801.2 C2180.5 810.9 2182.0 816.6 2184.4 824.3 C2186.8 832.0 2190.4 838.8 2193.1 847.5 C2195.8 856.2 2197.9 865.8 2200.3 876.4 C2202.7 887.0 2205.3 900.6 2207.5 911.2 C2209.7 921.8 2211.1 931.5 2213.3 940.2 C2215.5 948.9 2217.9 956.5 2220.6 963.3 C2223.3 970.0 2225.9 972.2 2229.3 980.7 C2232.7 989.2 2237.4 1007.4 2240.8 1014.5 C2244.2 1021.6 2246.8 1020.3 2249.5 1023.2 C2252.2 1026.1 2254.4 1028.8 2256.8 1031.9 C2259.2 1035.0 2261.8 1041.8 2264.0 1042.0 C2266.2 1042.2 2267.9 1036.9 2269.8 1033.3 C2271.7 1029.7 2273.4 1024.2 2275.6 1020.3 C2277.8 1016.4 2280.2 1012.8 2282.8 1010.1 C2285.5 1007.4 2288.6 1004.1 2291.5 1004.3 C2294.4 1004.4 2296.8 1009.7 2300.2 1011.0 C2303.6 1012.3 2309.9 1012.0 2311.8 1012.2"/>
<path class="c" stroke="#000000" d="M176.6 1059.4 C180.0 1057.7 190.6 1052.4 196.9 1049.2 C203.2 1046.0 209.0 1043.0 214.3 1040.5 C219.6 1038.0 223.0 1035.1 228.8 1034.2 C234.6 1033.3 241.8 1035.0 249.0 1035.3 C256.2 1035.6 264.9 1035.8 272.2 1036.2 C279.4 1036.6 286.7 1036.5 292.5 1037.6 C298.3 1038.7 302.1 1041.5 306.9 1042.9 C311.7 1044.4 317.0 1046.2 321.4 1046.3 C325.8 1046.4 329.6 1042.7 333.0 1043.4 C336.4 1044.1 338.3 1047.3 341.7 1050.7 C345.1 1054.1 349.7 1058.2 353.3 1063.7 C356.9 1069.2 360.3 1077.2 363.4 1084.0 C366.5 1090.8 369.2 1097.0 372.1 1104.2 C375.0 1111.4 378.2 1118.7 380.8 1127.4 C383.4 1136.1 385.6 1145.8 388.0 1156.4 C390.4 1167.0 392.9 1178.5 395.3 1191.1 C397.7 1203.6 400.1 1218.2 402.5 1231.7 C404.9 1245.2 407.3 1258.7 409.7 1272.2 C412.1 1285.7 414.3 1298.7 417.0 1312.7 C419.7 1326.7 422.8 1341.7 425.7 1356.2 C428.6 1370.7 431.5 1386.6 434.4 1399.6 C437.3 1412.6 440.2 1422.8 443.1 1434.4 C446.0 1446.0 447.6 1454.7 451.7 1469.1 C455.8 1483.5 463.4 1508.3 468.0 1520.8 C472.6 1533.3 475.6 1537.7 479.5 1544.0 C483.4 1550.3 487.2 1554.4 491.1 1558.5 C495.0 1562.6 498.8 1565.9 502.7 1568.6 C506.6 1571.2 510.4 1574.4 514.3 1574.4 C518.2 1574.4 522.0 1571.2 525.9 1568.6 C529.8 1565.9 533.6 1562.6 537.5 1558.5 C541.4 1554.4 545.1 1550.3 549.0 1544.0 C552.9 1537.7 555.6 1532.3 560.6 1520.8 C565.6 1509.3 574.2 1486.4 579.2 1474.9 C584.2 1463.4 584.8 1462.8 590.7 1451.7 C596.6 1440.6 608.1 1420.8 614.5 1408.3 C620.9 1395.8 624.2 1388.5 629.0 1376.4 C633.8 1364.3 638.6 1350.4 643.4 1335.9 C648.2 1321.4 653.1 1305.5 657.9 1289.6 C662.7 1273.7 667.6 1255.8 672.4 1240.3 C677.2 1224.8 682.5 1209.4 686.9 1196.9 C691.2 1184.4 694.2 1175.2 698.5 1165.1 C702.8 1155.0 708.1 1143.8 712.9 1136.1 C717.7 1128.4 722.3 1122.7 727.4 1118.7 C732.5 1114.8 738.5 1112.4 743.3 1112.4 C748.1 1112.4 752.5 1114.8 756.4 1118.7 C760.3 1122.7 763.7 1128.8 766.5 1136.1 C769.3 1143.3 771.4 1152.1 773.2 1162.2 C775.0 1172.3 775.9 1184.4 777.2 1196.9 C778.5 1209.5 779.6 1222.0 781.0 1237.5 C782.4 1253.0 783.8 1272.2 785.3 1289.6 C786.8 1307.0 788.5 1324.4 789.7 1341.7 C790.9 1359.0 791.4 1377.5 792.3 1393.4 C793.2 1409.3 794.2 1422.4 795.2 1436.9 C796.2 1451.4 797.1 1468.2 798.1 1480.3 C799.1 1492.4 800.1 1503.0 801.0 1509.3 C801.9 1515.6 802.3 1518.5 803.3 1518.0 C804.3 1517.5 805.7 1515.1 806.8 1506.4 C807.9 1497.7 808.8 1479.3 809.7 1465.8 C810.6 1452.3 811.3 1434.2 812.0 1425.3 C812.7 1416.4 813.0 1412.3 814.0 1412.3 C815.0 1412.3 816.7 1418.8 817.8 1425.3 C818.9 1431.8 819.7 1443.2 820.7 1451.4 C821.7 1459.6 822.5 1471.1 823.6 1474.5 C824.8 1477.9 826.1 1473.8 827.6 1471.6 C829.1 1469.4 831.2 1462.0 832.8 1461.5 C834.4 1461.0 835.8 1465.6 837.2 1468.7 C838.7 1471.8 839.6 1476.9 841.5 1480.3 C843.4 1483.7 846.3 1486.3 848.7 1489.0 C851.1 1491.7 854.1 1494.3 856.0 1496.2 C857.9 1498.1 858.6 1501.3 860.3 1500.6 C862.0 1499.9 864.4 1497.7 866.1 1491.9 C867.8 1486.1 869.0 1477.4 870.5 1465.8 C872.0 1454.2 873.4 1436.9 874.8 1422.4 C876.1 1407.9 877.4 1393.9 878.6 1379.0 C879.9 1364.1 881.2 1347.9 882.3 1333.0 C883.4 1318.1 884.2 1302.6 885.2 1289.6 C886.2 1276.6 886.9 1264.9 888.1 1254.8 C889.3 1244.7 890.3 1237.5 892.5 1228.8 C894.7 1220.1 898.6 1211.9 901.2 1202.7 C903.9 1193.5 906.2 1183.4 908.4 1173.7 C910.6 1164.0 912.5 1152.5 914.2 1144.8 C915.9 1137.1 916.3 1133.2 918.5 1127.4 C920.7 1121.6 923.8 1116.3 927.2 1110.0 C930.6 1103.7 934.9 1094.4 938.8 1089.8 C942.7 1085.2 946.5 1085.9 950.4 1082.5 C954.3 1079.1 958.6 1074.6 962.0 1069.5 C965.4 1064.4 968.1 1056.2 970.7 1052.1 C973.4 1048.0 975.0 1045.9 977.9 1044.9 C980.8 1043.9 984.6 1048.0 988.0 1046.3 C991.4 1044.6 994.8 1039.5 998.2 1034.7 C1001.6 1029.9 1004.7 1022.5 1008.3 1017.4 C1011.9 1012.3 1015.5 1009.0 1019.9 1004.3 C1024.2 999.6 1029.1 993.3 1034.4 989.4 C1039.7 985.5 1045.9 983.1 1051.7 980.7 C1057.5 978.3 1062.3 977.5 1069.1 974.9 C1075.9 972.2 1085.5 967.2 1092.3 964.8 C1099.1 962.4 1104.4 961.6 1109.7 960.4 C1115.0 959.2 1119.3 957.5 1124.1 957.5 C1128.9 957.5 1132.8 959.4 1138.6 960.4 C1144.4 961.4 1153.8 962.1 1158.9 963.3 C1164.0 964.5 1165.6 967.5 1169.0 967.7 C1172.4 968.0 1175.6 964.9 1179.2 964.8 C1182.8 964.6 1184.8 967.0 1190.7 966.8 C1196.6 966.5 1208.1 963.9 1214.5 963.3 C1220.9 962.7 1224.2 961.8 1229.0 963.3 C1233.8 964.8 1239.9 970.0 1243.4 972.0 C1246.9 974.0 1247.0 973.1 1250.0 975.3 C1253.0 977.4 1257.4 982.8 1261.6 984.9 C1265.8 987.0 1270.6 986.5 1275.1 987.8 C1279.6 989.1 1284.4 990.6 1288.6 992.7 C1292.8 994.8 1295.7 998.6 1300.2 1000.4 C1304.7 1002.2 1310.4 1002.5 1315.6 1003.3 C1320.8 1004.1 1326.6 1004.1 1331.1 1005.2 C1335.6 1006.3 1338.8 1008.7 1342.7 1010.0 C1346.6 1011.3 1350.4 1013.5 1354.2 1012.9 C1358.0 1012.3 1361.9 1008.3 1365.8 1006.2 C1369.7 1004.1 1373.5 1001.9 1377.4 1000.4 C1381.3 998.9 1385.1 999.1 1389.0 997.5 C1392.9 995.9 1396.7 993.1 1400.6 990.7 C1404.5 988.3 1408.3 985.2 1412.2 983.0 C1416.1 980.8 1419.9 978.7 1423.7 977.2 C1427.5 975.8 1430.8 974.9 1435.3 974.3 C1439.8 973.7 1446.3 974.0 1450.8 973.4 C1455.3 972.8 1458.6 971.0 1462.4 970.5 C1466.2 970.0 1470.1 969.9 1473.9 970.5 C1477.8 971.1 1481.6 973.3 1485.5 974.3 C1489.4 975.3 1493.2 975.2 1497.1 976.3 C1501.0 977.4 1505.5 979.0 1508.7 981.1 C1511.9 983.2 1513.5 985.9 1516.4 988.8 C1519.3 991.7 1522.9 995.6 1526.1 998.5 C1529.3 1001.4 1532.5 1004.0 1535.7 1006.2 C1538.9 1008.5 1542.5 1010.9 1545.4 1012.0 C1548.3 1013.1 1551.3 1011.3 1553.1 1012.9 C1554.9 1014.5 1555.2 1017.9 1556.0 1021.6 C1556.8 1025.3 1557.1 1030.6 1557.9 1035.1 C1558.7 1039.6 1559.5 1044.7 1560.8 1048.6 C1562.1 1052.5 1564.0 1055.9 1565.6 1058.3 C1567.2 1060.7 1568.4 1062.4 1570.5 1063.1 C1572.6 1063.8 1576.0 1061.7 1578.2 1062.2 C1580.5 1062.7 1582.4 1063.4 1584.0 1066.0 C1585.6 1068.6 1586.6 1072.7 1587.8 1077.6 C1589.0 1082.5 1589.4 1088.3 1590.9 1095.6 C1592.4 1102.9 1594.8 1112.4 1596.7 1121.6 C1598.6 1130.8 1600.6 1141.9 1602.5 1150.6 C1604.4 1159.3 1606.3 1167.9 1608.3 1173.7 C1610.3 1179.5 1612.5 1184.8 1614.7 1185.3 C1616.9 1185.8 1619.0 1181.9 1621.3 1176.6 C1623.6 1171.3 1625.9 1162.2 1628.6 1153.5 C1631.3 1144.8 1634.6 1133.0 1637.3 1124.5 C1640.0 1116.0 1641.8 1107.9 1644.5 1102.8 C1647.2 1097.7 1650.1 1094.3 1653.2 1094.1 C1656.3 1093.9 1659.7 1097.3 1663.3 1101.4 C1666.9 1105.5 1671.3 1112.4 1674.9 1118.7 C1678.5 1125.0 1682.1 1131.3 1685.0 1139.0 C1687.9 1146.7 1689.9 1155.4 1692.3 1165.1 C1694.7 1174.8 1697.3 1185.8 1699.5 1196.9 C1701.7 1208.0 1703.7 1218.7 1705.3 1231.7 C1706.9 1244.7 1708.0 1260.6 1709.1 1275.1 C1710.2 1289.6 1711.0 1304.0 1712.0 1318.5 C1713.0 1333.0 1713.9 1347.5 1714.9 1362.0 C1716.0 1376.5 1717.0 1392.4 1718.3 1405.4 C1719.6 1418.4 1721.2 1431.0 1722.7 1440.2 C1724.2 1449.4 1725.4 1458.5 1727.0 1460.4 C1728.6 1462.3 1730.8 1457.5 1732.2 1451.7 C1733.7 1445.9 1734.7 1434.4 1735.7 1425.7 C1736.7 1417.0 1737.1 1405.9 1738.0 1399.6 C1738.9 1393.3 1739.8 1388.5 1740.9 1388.0 C1742.0 1387.5 1743.2 1390.9 1744.4 1396.7 C1745.6 1402.5 1746.7 1414.6 1747.9 1422.8 C1749.1 1431.0 1750.3 1439.6 1751.6 1445.9 C1752.8 1452.2 1753.5 1458.2 1755.4 1460.4 C1757.3 1462.6 1760.9 1457.5 1763.2 1459.0 C1765.5 1460.5 1767.3 1463.5 1769.0 1469.1 C1770.7 1474.6 1772.2 1483.1 1773.4 1492.3 C1774.7 1501.5 1775.6 1517.2 1776.5 1524.5 C1777.4 1531.8 1777.8 1536.1 1778.6 1536.1 C1779.4 1536.1 1780.7 1535.7 1781.5 1524.5 C1782.3 1513.3 1782.7 1482.7 1783.5 1469.1 C1784.3 1455.5 1785.2 1448.9 1786.4 1443.1 C1787.6 1437.3 1788.8 1433.0 1790.7 1434.4 C1792.6 1435.8 1795.9 1445.9 1797.8 1451.7 C1799.7 1457.5 1800.6 1465.2 1802.1 1469.1 C1803.5 1473.0 1804.9 1475.9 1806.5 1474.9 C1808.1 1473.9 1810.2 1469.1 1811.7 1463.3 C1813.2 1457.5 1814.2 1446.7 1815.7 1440.2 C1817.2 1433.7 1818.8 1425.7 1820.4 1424.2 C1822.0 1422.8 1823.8 1426.9 1825.3 1431.5 C1826.8 1436.1 1828.0 1446.4 1829.6 1451.7 C1831.2 1457.0 1833.2 1460.9 1834.9 1463.3 C1836.6 1465.7 1838.0 1467.2 1839.8 1466.2 C1841.6 1465.2 1843.9 1463.3 1845.6 1457.5 C1847.3 1451.7 1848.5 1439.2 1849.9 1431.5 C1851.4 1423.8 1852.6 1417.0 1854.3 1411.2 C1856.0 1405.4 1858.2 1402.0 1860.1 1396.7 C1862.0 1391.4 1864.1 1383.2 1865.8 1379.3 C1867.5 1375.4 1868.6 1373.8 1870.2 1373.6 C1871.8 1373.4 1873.9 1370.6 1875.4 1377.9 C1876.9 1385.2 1877.9 1404.1 1879.3 1417.4 C1880.7 1430.7 1882.2 1443.9 1883.7 1457.9 C1885.2 1471.9 1886.5 1486.9 1888.0 1501.4 C1889.5 1515.9 1891.0 1531.3 1892.4 1544.8 C1893.9 1558.3 1895.0 1569.9 1896.7 1582.4 C1898.4 1595.0 1900.3 1609.5 1902.5 1620.1 C1904.7 1630.7 1907.3 1639.3 1909.7 1646.1 C1912.1 1652.8 1914.6 1655.8 1917.0 1660.6 C1919.4 1665.4 1922.3 1671.5 1924.2 1675.1 C1926.1 1678.7 1926.9 1681.6 1928.6 1682.3 C1930.3 1683.0 1932.5 1681.3 1934.4 1679.4 C1936.3 1677.5 1938.3 1670.8 1940.2 1670.8 C1942.1 1670.8 1944.0 1675.6 1945.9 1679.4 C1947.8 1683.2 1950.0 1690.9 1951.7 1693.9 C1953.4 1697.0 1954.4 1698.4 1956.1 1697.7 C1957.8 1697.0 1959.7 1693.1 1961.9 1689.6 C1964.1 1686.1 1966.7 1679.6 1969.1 1676.5 C1971.5 1673.4 1974.2 1674.4 1976.4 1670.8 C1978.6 1667.2 1980.2 1661.3 1982.1 1654.8 C1984.0 1648.3 1986.0 1641.3 1987.9 1631.7 C1989.8 1622.1 1991.8 1609.5 1993.7 1596.9 C1995.6 1584.4 1997.8 1569.9 1999.5 1556.4 C2001.2 1542.9 2002.4 1530.3 2003.9 1515.8 C2005.4 1501.2 2006.5 1478.3 2008.6 1469.1 C2010.7 1459.9 2014.1 1464.3 2016.4 1460.4 C2018.7 1456.5 2020.5 1452.2 2022.2 1445.9 C2023.9 1439.6 2025.3 1429.3 2026.6 1422.8 C2027.9 1416.3 2028.1 1408.9 2030.0 1406.9 C2031.9 1404.9 2035.3 1410.8 2038.1 1410.6 C2040.9 1410.3 2044.4 1408.7 2046.8 1405.4 C2049.2 1402.1 2051.0 1398.1 2052.6 1390.9 C2054.2 1383.7 2054.9 1374.1 2056.1 1362.0 C2057.3 1349.9 2058.6 1335.4 2059.9 1318.5 C2061.2 1301.6 2062.8 1282.3 2064.2 1260.6 C2065.6 1238.9 2067.2 1212.3 2068.5 1188.2 C2069.8 1164.1 2071.1 1137.5 2072.3 1115.8 C2073.5 1094.1 2074.7 1073.8 2075.8 1057.9 C2076.9 1042.0 2077.7 1028.3 2078.7 1020.3 C2079.7 1012.3 2080.6 1010.1 2081.6 1010.1 C2082.6 1010.1 2083.5 1012.3 2084.5 1020.3 C2085.5 1028.3 2086.3 1042.0 2087.4 1057.9 C2088.5 1073.8 2089.6 1096.5 2090.8 1115.8 C2092.0 1135.1 2093.3 1155.3 2094.6 1173.7 C2095.9 1192.1 2097.1 1212.9 2098.4 1225.9 C2099.7 1238.9 2101.2 1245.6 2102.4 1251.9 C2103.6 1258.2 2104.3 1263.5 2105.3 1263.5 C2106.3 1263.5 2107.2 1262.0 2108.2 1251.9 C2109.2 1241.8 2110.0 1218.1 2111.1 1202.7 C2112.2 1187.3 2113.6 1172.8 2114.9 1159.3 C2116.2 1145.8 2117.9 1136.1 2119.2 1121.6 C2120.5 1107.1 2121.6 1087.8 2122.7 1072.4 C2123.8 1057.0 2124.7 1044.3 2125.6 1029.0 C2126.5 1013.7 2126.8 992.1 2127.9 980.7 C2129.0 969.3 2130.9 965.5 2132.3 960.4 C2133.8 955.3 2135.2 952.2 2136.6 950.3 C2138.0 948.4 2139.3 947.6 2140.9 948.8 C2142.5 950.0 2144.0 953.1 2145.9 957.5 C2147.8 961.9 2149.0 964.9 2152.5 974.9 C2156.0 984.9 2163.6 1005.0 2167.0 1017.4 C2170.4 1029.8 2170.9 1038.6 2172.8 1049.2 C2174.7 1059.8 2176.7 1071.0 2178.6 1081.1 C2180.5 1091.2 2182.0 1100.3 2184.4 1110.0 C2186.8 1119.7 2190.4 1128.4 2193.1 1139.0 C2195.8 1149.6 2197.9 1161.2 2200.3 1173.7 C2202.7 1186.2 2205.1 1202.7 2207.5 1214.3 C2209.9 1225.9 2212.1 1234.5 2214.8 1243.2 C2217.5 1251.9 2220.6 1258.7 2223.5 1266.4 C2226.4 1274.1 2229.5 1281.9 2232.2 1289.6 C2234.8 1297.3 2237.2 1306.9 2239.4 1312.7 C2241.6 1318.5 2243.0 1320.4 2245.2 1324.3 C2247.4 1328.2 2250.2 1332.0 2252.4 1335.9 C2254.6 1339.8 2256.3 1343.7 2258.2 1347.5 C2260.1 1351.3 2262.1 1357.5 2264.0 1358.5 C2265.9 1359.5 2267.9 1356.6 2269.8 1353.3 C2271.7 1350.0 2273.4 1342.7 2275.6 1338.8 C2277.8 1334.9 2280.4 1332.0 2282.8 1330.1 C2285.2 1328.2 2287.7 1326.5 2290.1 1327.2 C2292.5 1327.9 2294.9 1332.8 2297.3 1334.5 C2299.7 1336.2 2301.9 1335.7 2304.5 1337.4 C2307.1 1339.1 2311.3 1343.4 2312.7 1344.6"/>
<path d="M176 1755.5 H2313" stroke="#000" stroke-width="7" fill="none" stroke-linecap="square"/>
<path d="M176.0 1755.5 V1792.0" stroke="#000" stroke-width="7" fill="none"/>
<path d="M328.6 1755.5 V1776.0" stroke="#000" stroke-width="7" fill="none"/>
<path d="M481.3 1755.5 V1792.0" stroke="#000" stroke-width="7" fill="none"/>
<path d="M633.9 1755.5 V1776.0" stroke="#000" stroke-width="7" fill="none"/>
<path d="M786.6 1755.5 V1792.0" stroke="#000" stroke-width="7" fill="none"/>
<path d="M939.2 1755.5 V1776.0" stroke="#000" stroke-width="7" fill="none"/>
<path d="M1091.9 1755.5 V1792.0" stroke="#000" stroke-width="7" fill="none"/>
<path d="M1244.5 1755.5 V1776.0" stroke="#000" stroke-width="7" fill="none"/>
<path d="M1397.1 1755.5 V1792.0" stroke="#000" stroke-width="7" fill="none"/>
<path d="M1549.8 1755.5 V1776.0" stroke="#000" stroke-width="7" fill="none"/>
<path d="M1702.4 1755.5 V1792.0" stroke="#000" stroke-width="7" fill="none"/>
<path d="M1855.1 1755.5 V1776.0" stroke="#000" stroke-width="7" fill="none"/>
<path d="M2007.7 1755.5 V1792.0" stroke="#000" stroke-width="7" fill="none"/>
<path d="M2160.4 1755.5 V1776.0" stroke="#000" stroke-width="7" fill="none"/>
<path d="M2313.0 1755.5 V1792.0" stroke="#000" stroke-width="7" fill="none"/>
<text class="tick" x="176.0" y="1864.5">4000</text>
<text class="tick" x="481.3" y="1864.5">3500</text>
<text class="tick" x="786.6" y="1864.5">3000</text>
<text class="tick" x="1091.9" y="1864.5">2500</text>
<text class="tick" x="1397.1" y="1864.5">2000</text>
<text class="tick" x="1702.4" y="1864.5">1500</text>
<text class="tick" x="2007.7" y="1864.5">1000</text>
<text class="tick" x="2313.0" y="1864.5">500</text>
<text x="879" y="2013.5" font-size="83" fill="#000" style="font-kerning:none;letter-spacing:0.35px">Wavenumber (cm<tspan font-size="47" dy="-46" dx="1">-1</tspan><tspan dy="46" dx="5">)</tspan></text>
<text class="lab" x="27" y="282" fill="#ff00ff">HPC<tspan dy="3.8" stroke="#ff00ff" stroke-width="4.5">_</tspan><tspan dy="-3.8">TP</tspan></text>
<text class="lab" x="43" y="708" fill="#0000ff">HPC<tspan dy="3.8" stroke="#0000ff" stroke-width="4.5">_</tspan><tspan dy="-3.8">T</tspan></text>
<text class="lab" x="58" y="1013" fill="#ff0000">HPC<tspan dy="3.8" stroke="#ff0000" stroke-width="4.5">_</tspan><tspan dy="-3.8">P</tspan></text>
<text class="lab" x="58" y="1158" fill="#000">HPC</text>
</svg></body></html>
